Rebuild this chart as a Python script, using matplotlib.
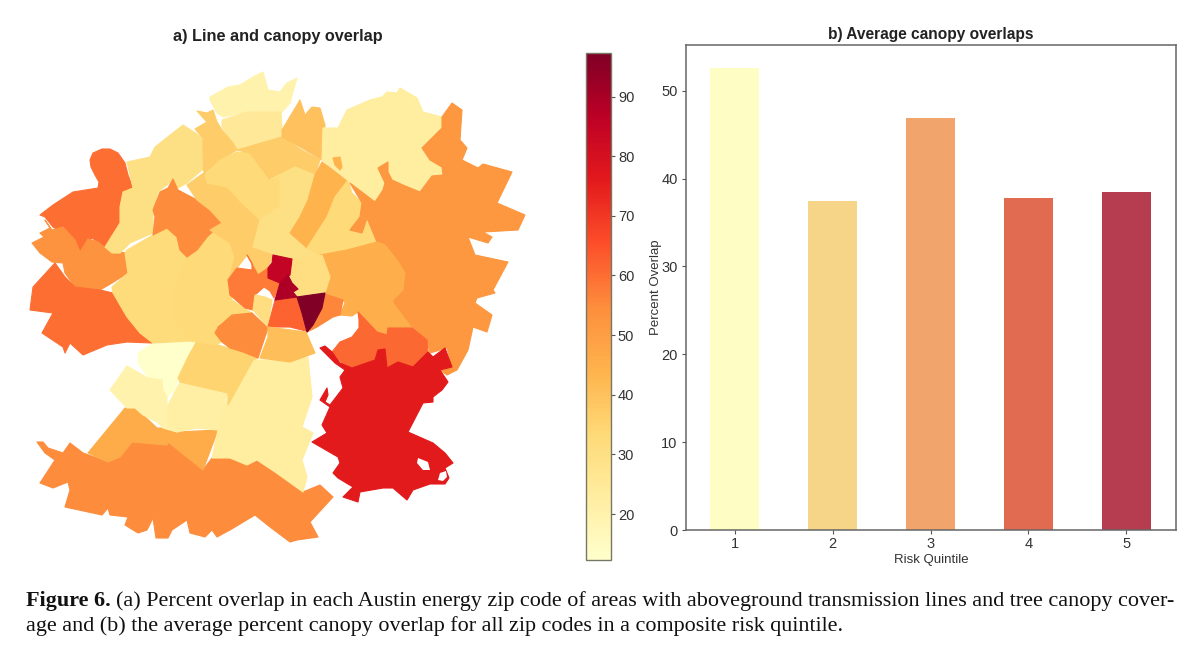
import matplotlib
matplotlib.use('Agg')
import matplotlib.pyplot as plt
from matplotlib.collections import PolyCollection
from matplotlib.patches import Polygon

W, H = 1200, 664

# bar chart values
quintiles = [1, 2, 3, 4, 5]
avg_overlap = [52.6, 37.5, 46.9, 37.8, 38.5]
bar_colors = ['#FEFDC4', '#F6D588', '#F1A56C', '#E06B50', '#B63C50']

# zip code outlines (x, y in map units, y down) and percent overlap
z_w1 = [(102,149),(110,149),(118,153),(125,163),(128,175),(133,188),(123,192),(120,207),(121,223),(105,247),(92,238),(80,252),(70,237),(53,227),(45,217),(40,215),(53,205),(73,192),(98,188),(99,182),(95,175),(91,167),(90,160),(93,153)]
z_w2 = [(45,220),(50,228),(40,233),(44,237),(32,243),(40,253),(52,262),(63,263),(65,273),(75,287),(100,290),(112,283),(128,273),(125,253),(105,248),(98,242),(88,239),(80,252),(75,240),(63,227),(52,230)]
z_w3 = [(33,287),(55,263),(65,277),(75,287),(100,290),(113,293),(122,308),(127,317),(140,333),(152,343),(127,342),(107,345),(83,355),(70,343),(65,353),(63,347),(42,333),(53,313),(30,310)]
z_nw = [(127,162),(150,157),(155,147),(183,125),(203,138),(202,163),(202,170),(187,183),(178,188),(173,180),(163,188),(158,192),(153,210),(153,233),(130,243),(120,253),(112,253),(105,247),(120,223),(120,207),(123,192),(133,188)]
z_blob = [(173,179),(178,190),(197,200),(210,210),(222,223),(207,237),(197,250),(187,257),(180,250),(177,237),(167,228),(153,235),(155,217),(153,210),(160,192),(168,188)]
z_wc1 = [(127,250),(153,235),(167,228),(177,237),(180,250),(188,257),(175,285),(175,310),(190,330),(190,341),(153,343),(140,333),(127,317),(113,293),(112,287),(128,273),(125,253)]
z_wc2 = [(188,257),(197,250),(207,237),(210,230),(222,235),(230,243),(234,252),(235,262),(231,272),(228,282),(232,300),(245,309),(252,313),(232,315),(223,323),(215,328),(223,340),(217,345),(190,341),(175,320),(175,285)]
z_top = [(210,97),(228,87),(240,85),(253,77),(263,72),(268,90),(280,92),(287,83),(297,78),(293,92),(290,103),(281,113),(270,112),(247,112),(223,117),(217,113),(210,100)]
z_n2 = [(222,120),(247,112),(281,112),(282,128),(282,138),(237,150),(222,127)]
z_n3 = [(197,111),(207,113),(213,110),(217,122),(222,130),(233,143),(237,150),(220,160),(205,173),(203,170),(203,138),(195,129),(207,122)]
z_n4 = [(187,185),(205,172),(207,183),(227,187),(242,203),(260,220),(253,247),(247,255),(237,268),(228,282),(231,272),(235,257),(230,243),(210,230),(222,223),(210,210),(197,200)]
z_n5 = [(205,175),(220,160),(237,152),(250,153),(267,170),(280,175),(280,207),(260,220),(242,203),(227,187),(207,183)]
z_n6 = [(237,150),(282,137),(302,150),(320,160),(315,175),(295,167),(283,173),(270,180),(250,153)]
z_n7 = [(282,130),(300,100),(305,115),(312,107),(320,108),(325,125),(322,160),(302,148),(282,137)]
z_n8 = [(270,180),(283,173),(295,167),(315,175),(307,200),(300,217),(290,233),(307,248),(322,255),(290,260),(273,255),(253,247),(260,220),(280,207),(280,175)]
z_n9 = [(322,162),(348,180),(335,197),(327,217),(315,237),(307,248),(290,233),(300,217),(308,200),(315,175)]
z_n9b = [(333,158),(340,157),(342,167),(340,170),(335,165)]
z_n10 = [(348,180),(352,193),(362,203),(360,217),(350,230),(362,233),(367,218),(377,242),(347,250),(320,255),(307,248),(327,217),(335,197)]
z_ne = [(323,128),(338,128),(342,120),(347,110),(370,100),(382,97),(387,92),(397,93),(400,88),(417,98),(423,112),(442,117),(442,128),(422,148),(430,160),(442,167),(443,175),(432,176),(420,192),(403,185),(392,180),(388,172),(388,162),(378,168),(385,183),(383,190),(375,202),(350,182),(322,160)]
z_east = [(442,117),(452,103),(462,110),(460,140),(467,148),(462,160),(478,168),(483,164),(512,172),(497,203),(525,215),(518,230),(483,232),(492,237),(488,243),(468,237),(475,255),(508,262),(493,290),(495,293),(477,298),(475,303),(492,315),(487,332),(473,327),(468,350),(457,370),(447,375),(440,370),(452,367),(447,348),(430,353),(427,340),(413,330),(393,303),(393,300),(403,290),(405,273),(397,260),(385,245),(377,242),(367,218),(362,233),(350,230),(360,217),(362,203),(350,183),(375,202),(383,190),(385,183),(378,168),(388,162),(388,172),(392,180),(403,185),(420,192),(432,176),(443,175),(442,167),(430,160),(422,148),(442,128)]
z_e2 = [(320,255),(347,250),(377,242),(385,245),(397,260),(405,273),(403,290),(393,300),(393,303),(412,328),(388,328),(387,335),(377,332),(358,312),(352,316),(340,315),(345,303),(343,300),(325,293),(330,277),(322,255)]
z_se = [(358,312),(377,332),(387,335),(388,328),(412,328),(427,340),(428,352),(418,362),(413,367),(398,362),(387,368),(383,350),(378,350),(375,360),(352,368),(342,363),(332,352),(340,342),(352,337),(359,328),(359,320)]
z_red = [(320,348),(325,346),(332,352),(340,363),(352,368),(375,360),(378,350),(385,349),(387,368),(398,362),(413,367),(428,352),(433,357),(445,348),(452,367),(440,370),(448,382),(442,390),(433,397),(433,402),(423,403),(408,432),(433,443),(445,453),(453,463),(445,468),(449,478),(445,484),(430,484),(413,490),(407,500),(393,488),(383,488),(360,492),(358,502),(343,497),(353,487),(338,478),(333,473),(340,463),(338,457),(312,442),(327,433),(322,425),(330,407),(320,400),(327,388),(328,395),(325,402),(330,405),(343,388),(340,377),(345,370),(335,363)]
z_s1 = [(223,407),(253,360),(280,360),(308,357),(312,397),(302,427),(313,433),(302,460),(307,477),(303,492),(275,472),(257,460),(247,465),(230,458),(212,458),(218,430),(223,407)]
z_s2 = [(167,407),(180,382),(228,393),(223,407),(218,430),(197,428),(177,432),(167,427)]
z_s3 = [(138,353),(153,343),(197,341),(188,357),(178,378),(175,390),(167,397),(163,390),(162,380),(148,377),(138,363)]
z_s4 = [(127,366),(148,378),(162,380),(163,390),(167,397),(167,427),(177,432),(163,428),(157,422),(143,415),(135,408),(127,408),(110,390)]
z_s5 = [(197,341),(218,345),(232,349),(243,352),(258,358),(253,360),(228,405),(228,393),(180,382),(178,378),(188,357)]
z_sw1 = [(125,408),(135,408),(143,415),(157,428),(163,428),(177,432),(218,430),(203,470),(168,442),(167,445),(132,442),(120,457),(108,462),(88,453)]
z_sw2 = [(37,442),(43,442),(48,448),(63,453),(70,443),(83,453),(108,462),(120,457),(132,442),(167,445),(168,442),(203,470),(212,458),(230,458),(247,465),(257,460),(275,472),(280,470),(303,492),(320,485),(333,497),(310,522),(318,537),(297,540),(290,542),(270,527),(255,515),(230,530),(217,537),(212,530),(205,537),(190,533),(187,520),(172,530),(168,538),(156,538),(153,518),(147,530),(138,533),(125,525),(128,517),(110,515),(108,508),(102,515),(65,507),(70,490),(68,482),(53,488),(40,483),(55,460),(45,453)]
z_c1 = [(247,255),(252,263),(252,270),(237,268),(228,280),(230,295),(245,308),(253,310),(255,295),(264,287),(270,291),(274,298),(280,283),(270,278),(268,268),(258,275)]
z_c2 = [(253,248),(273,255),(270,263),(265,275),(258,275),(252,263),(247,255)]
z_c3 = [(232,315),(252,313),(268,328),(258,358),(243,352),(230,348),(222,342),(215,333),(218,327),(223,323)]
z_c4 = [(255,295),(265,297),(272,300),(268,327),(253,310)]
z_c5 = [(290,260),(322,255),(330,277),(325,293),(297,297),(293,285),(290,275)]
z_c6 = [(275,300),(297,297),(302,315),(306,331),(290,327),(268,327)]
z_c7 = [(325,294),(343,300),(340,315),(333,317),(317,327),(307,332),(322,308)]
z_c8 = [(268,327),(306,332),(315,353),(290,362),(260,358),(268,337)]
z_d1 = [(273,255),(292,259),(290,275),(280,283),(268,278),(268,268),(272,263)]
z_d2 = [(288,275),(292,283),(298,289),(293,292),(297,297),(275,300),(280,283)]
z_d3 = [(297,297),(325,293),(322,308),(313,325),(307,332),(302,313)]

zip_shapes = [z_sw2, z_sw1, z_s1, z_s2, z_s3, z_s4, z_s5, z_w1, z_w2, z_w3, z_nw, z_wc1, z_wc2, z_blob,
              z_top, z_n2, z_n3, z_n4, z_n5, z_n6, z_n7, z_n8, z_n9, z_n10, z_ne, z_n9b, z_east, z_e2,
              z_se, z_red, z_c2, z_c1, z_c3, z_c4, z_c5, z_c6, z_c7, z_c8, z_d1, z_d2, z_d3]
zip_overlap = [55, 46, 23, 22, 12.5, 20, 35, 60, 53, 60, 30, 32, 33, 55,
               20, 25, 37, 37, 33, 37, 40, 30, 44, 33, 23, 44, 52, 45,
               61, 76, 37, 58, 55, 31, 31, 62, 56, 41, 85, 89, 97]
red_holes = [[(418,458),(428,462),(430,470),(423,470),(417,463)], [(440,473),(446,471),(447,477),(443,481),(438,480)]]

plt.rcParams['font.family'] = ['Liberation Sans', 'DejaVu Sans']
fig = plt.figure(figsize=(W / 100, H / 100), dpi=100)


def box(left, top, right, bottom):
    return [left / W, 1 - bottom / H, (right - left) / W, (bottom - top) / H]


ax_map = fig.add_axes(box(20, 60, 530, 550))
coll = PolyCollection(zip_shapes, array=zip_overlap, cmap='YlOrRd', edgecolors='face', linewidths=0.8)
coll.set_clim(12.3, 97.3)
ax_map.add_collection(coll)
for hole in red_holes:
    ax_map.add_patch(Polygon(hole, facecolor='white', edgecolor='none'))
ax_map.set_xlim(20, 530)
ax_map.set_ylim(550, 60)
ax_map.axis('off')
fig.text(278 / W, 1 - 36 / H, 'a) Line and canopy overlap', ha='center', va='center',
         fontsize=11.7, fontweight='bold', color='#222222')

cax = fig.add_axes(box(586, 53, 611, 560))
cbar = fig.colorbar(coll, cax=cax, ticks=range(20, 100, 10))
cbar.outline.set_edgecolor('#777766')
cbar.outline.set_linewidth(1.0)
cbar.ax.tick_params(labelsize=10.5, length=3, width=0.8, color='#555555', labelcolor='#333333', pad=2)

ax_bar = fig.add_axes(box(686, 45, 1176, 530))
ax_bar.bar(quintiles, avg_overlap, width=0.5, color=bar_colors)
ax_bar.set_xlim(0.5, 5.51)
ax_bar.set_ylim(0, 55.2)
ax_bar.set_xticks(quintiles)
ax_bar.set_yticks(range(0, 60, 10))
ax_bar.tick_params(labelsize=10.5, length=3, width=0.8, color='#555555', labelcolor='#333333', pad=3)
ax_bar.tick_params(axis='x', pad=2)
ax_bar.set_xlabel('Risk Quintile', fontsize=9.5, color='#333333', labelpad=2)
ax_bar.set_ylabel('Percent Overlap', fontsize=9.5, color='#333333', labelpad=-0.5)
ax_bar.set_title('b) Average canopy overlaps', fontsize=11.2, fontweight='bold', color='#222222', pad=4)
for s in ax_bar.spines.values():
    s.set_edgecolor('#666666')
    s.set_linewidth(1.1)

caption1 = '(a) Percent overlap in each Austin energy zip code of areas with aboveground transmission lines and tree canopy cover-'
caption2 = 'age and (b) the average percent canopy overlap for all zip codes in a composite risk quintile.'
serif = ['Liberation Serif', 'DejaVu Serif']
lab = fig.text(26 / W, 1 - 606 / H, 'Figure 6.', fontsize=15.9, fontweight='bold', family=serif, color='#111111')
end = lab.get_window_extent(fig.canvas.get_renderer()).x1
fig.text((end + 5) / W, 1 - 606 / H, caption1, fontsize=15.9, family=serif, color='#111111')
fig.text(26 / W, 1 - 631 / H, caption2, fontsize=15.9, family=serif, color='#111111')

fig.savefig('out.png', dpi=100)
